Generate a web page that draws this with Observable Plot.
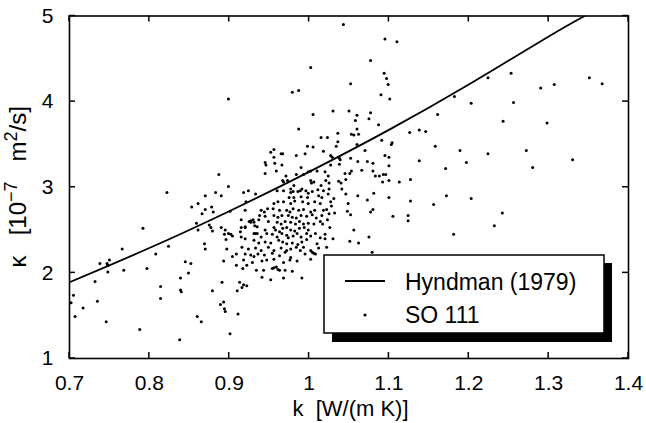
<!DOCTYPE html>
<html><head><meta charset="utf-8">
<script src="https://cdn.jsdelivr.net/npm/d3@7"></script>
<script src="https://cdn.jsdelivr.net/npm/@observablehq/plot@0.6"></script>
<style>
html,body{margin:0;padding:0;background:#fff;}
#chart{width:646px;height:423px;}
</style>
</head><body><div id="chart"></div>
<script>
// ---- data ----
const xTicks = [0.7, 0.8, 0.9, 1.0, 1.1, 1.2, 1.3, 1.4];
const yTicks = [1, 2, 3, 4, 5];
const hyndmanK     = [0.70, 0.80, 0.90, 1.00, 1.10, 1.20, 1.30, 1.345];
const hyndmanKappa = [1.89, 2.29, 2.72, 3.18, 3.67, 4.20, 4.76, 5.00];
const legendLabels = ["Hyndman (1979)", "SO 111"];
const xAxisLabel = "k  [W/(m K)]";

// SO 111 measurements [k, kappa]
const so111 = [
[0.899,4.03],[0.887,3.15],[0.899,3.01],[0.924,2.96],
[1.043,4.90],[1.095,4.73],[1.110,4.70],[1.077,4.48],[1.002,4.40],[1.094,4.33],[1.097,4.27],[1.099,4.20],[1.052,4.21],[0.979,4.11],[0.987,4.13],[1.090,4.08],[1.101,4.03],
[1.030,3.89],[1.050,3.89],[1.077,3.87],[1.005,3.85],[1.060,3.84],[1.075,3.80],[1.058,3.78],[1.087,3.73],[0.987,3.68],[1.060,3.68],[1.053,3.62],[1.056,3.61],[1.062,3.62],[1.015,3.58],[1.023,3.58],[1.036,3.63],[1.036,3.53],[1.034,3.48],[0.998,3.48],[1.005,3.47],[1.060,3.50],[1.091,3.55],[1.104,3.52],[1.103,3.50],[1.126,3.64],[1.138,3.67],[1.146,3.65],[1.161,3.85],[1.158,3.48],[1.138,3.31],[1.171,3.22],
[0.952,3.41],[0.956,3.44],[0.956,3.35],[0.965,3.39],[0.967,3.39],[0.945,3.29],[0.946,3.26],[0.957,3.28],[0.966,3.26],[0.945,3.16],[0.959,3.19],[0.984,3.37],[0.995,3.39],[1.018,3.42],[1.027,3.37],[1.029,3.35],[1.038,3.34],[1.052,3.34],[1.070,3.43],[1.095,3.37],[1.100,3.35],[1.061,3.30],[1.073,3.30],[1.080,3.28],[1.100,3.25],
[0.990,3.23],[1.002,3.19],[0.984,3.15],[0.993,3.15],[0.999,3.18],[1.010,3.19],[1.020,3.18],[1.027,3.26],[1.038,3.27],[1.039,3.32],[1.045,3.16],[1.051,3.16],[1.053,3.19],[1.066,3.20],[1.080,3.19],[1.083,3.13],[1.088,3.13],[1.093,3.15],[1.096,3.15],[1.100,3.08],[1.092,3.06],[1.113,3.06],[1.127,3.09],
[0.971,3.13],[0.967,3.08],[0.968,3.06],[0.973,3.08],[0.981,3.02],[1.002,3.08],[1.003,3.05],[1.006,3.06],[1.015,3.02],[1.021,3.08],[1.024,3.13],[1.025,3.05],[1.037,3.07],[1.040,3.05],[1.046,3.09],[1.025,2.98],[1.041,2.98],[0.977,2.98],[0.991,2.98],
[1.253,4.33],[1.224,4.28],[1.351,4.28],[1.367,4.21],[1.290,4.16],[1.307,4.20],[1.182,4.06],[1.203,3.98],[1.256,3.99],[1.243,3.77],[1.298,3.75],[1.189,3.43],[1.197,3.29],[1.224,3.39],[1.272,3.43],[1.280,3.23],[1.330,3.32],
[1.172,2.90],[1.203,2.87],[1.242,2.70],[1.232,2.55],[1.181,2.45],
[1.049,2.81],[1.073,2.85],[1.127,2.84],[1.156,2.80],[1.028,2.78],[1.022,2.74],[1.025,2.69],[1.032,2.70],[1.048,2.72],[1.052,2.68],[1.077,2.71],[1.080,2.74],[1.105,2.66],[1.124,2.67],[1.124,2.61],[1.026,2.53],[1.056,2.50],[1.020,2.45],[1.030,2.40],[1.075,2.42],[1.051,2.37],[1.062,2.35],[1.022,2.30],[1.079,2.24],
[1.061,2.90],[1.081,2.93],[1.100,2.88],[1.027,2.83],[1.031,2.87],[1.046,2.92],
[0.918,2.94],[0.933,2.92],[0.960,2.96],[0.968,2.96],[0.977,2.94],[0.980,2.95],[0.986,2.95],[0.989,2.96],[0.996,2.96],[0.999,2.93],[1.004,2.95],[1.011,2.97],[1.018,2.96],[0.975,2.88],[0.981,2.88],[0.990,2.89],[0.998,2.88],[1.012,2.90],[1.016,2.88],[1.024,2.92],
[0.921,2.83],[0.956,2.81],[0.961,2.83],[0.968,2.83],[0.977,2.81],[0.982,2.84],[0.992,2.83],[0.999,2.81],[1.007,2.83],[1.014,2.81],
[0.940,2.73],[0.944,2.71],[0.948,2.75],[0.955,2.75],[0.963,2.73],[0.972,2.73],[0.976,2.71],[0.980,2.75],[0.987,2.73],[0.993,2.74],[1.002,2.71],[1.007,2.73],[1.018,2.73],
[0.938,2.67],[0.945,2.66],[0.956,2.67],[0.961,2.65],[0.966,2.67],[0.974,2.67],[0.979,2.65],[0.984,2.64],[0.990,2.67],[0.997,2.66],[1.004,2.68],[1.009,2.64],[1.016,2.67],
[0.927,2.61],[0.931,2.59],[0.937,2.62],[0.949,2.60],[0.960,2.59],[0.965,2.57],[0.970,2.60],[0.977,2.59],[0.983,2.57],[0.988,2.60],[0.993,2.57],[0.999,2.58],[1.006,2.57],[1.014,2.60],[1.023,2.62],
[0.920,2.54],[0.932,2.55],[0.945,2.50],[0.956,2.53],[0.958,2.50],[0.963,2.48],[0.967,2.52],[0.972,2.53],[0.977,2.50],[0.982,2.49],[0.988,2.52],[0.994,2.53],[0.999,2.50],[1.017,2.57],
[0.914,2.48],[0.933,2.46],[0.940,2.42],[0.947,2.46],[0.954,2.45],[0.960,2.42],[0.966,2.46],[0.972,2.44],[0.974,2.41],[0.980,2.43],[0.985,2.46],[0.990,2.42],[0.997,2.46],[1.002,2.43],[1.008,2.46],[1.014,2.41],
[0.920,2.40],[0.931,2.38],[0.937,2.35],[0.945,2.36],[0.952,2.35],[0.962,2.38],[0.967,2.36],[0.972,2.34],[0.979,2.35],[0.986,2.33],[0.991,2.36],[0.997,2.39],[1.010,2.34],[1.020,2.40],
[0.916,2.30],[0.924,2.28],[0.933,2.29],[0.940,2.26],[0.949,2.30],[0.956,2.26],[0.965,2.29],[0.972,2.26],[0.977,2.28],[0.984,2.30],[0.993,2.30],[1.002,2.26],[1.006,2.23],[1.012,2.29],
[0.920,2.22],[0.931,2.19],[0.936,2.22],[0.944,2.21],[0.954,2.23],[0.963,2.20],[0.970,2.24],[0.977,2.18],[0.989,2.26],[0.995,2.22],[1.004,2.24],[1.008,2.22],
[0.918,2.15],[0.922,2.09],[0.929,2.12],[0.941,2.14],[0.947,2.15],[0.956,2.16],[0.968,2.12],[0.976,2.15],[0.985,2.14],[1.002,2.16],
[0.934,2.03],[0.943,2.03],[0.954,2.05],[0.956,2.06],[0.959,2.07],[0.961,2.04],[0.963,2.03],[0.970,2.03],[0.979,2.02],
[0.941,1.95],[0.952,1.92],[0.968,1.94],[0.991,1.94],
[0.918,1.86],[0.922,1.85],[0.916,1.83],[0.917,2.05],[0.927,2.21],
[0.822,2.94],[0.883,2.94],[0.890,2.90],[0.870,2.90],[0.861,2.81],[0.853,2.77],[0.870,2.74],[0.878,2.77],[0.880,2.71],[0.866,2.69],[0.901,2.72],[0.920,2.73],[0.859,2.58],[0.861,2.50],[0.875,2.56],[0.877,2.53],[0.879,2.49],[0.890,2.53],[0.895,2.50],[0.894,2.45],[0.896,2.39],[0.899,2.46],[0.902,2.45],[0.904,2.43],[0.915,2.62],[0.925,2.60],[0.930,2.62],[0.927,2.59],[0.915,2.53],[0.920,2.53],[0.935,2.54],[0.931,2.46],[0.935,2.46],[0.915,2.42],
[0.839,1.94],[0.845,2.13],[0.852,2.11],[0.849,2.00],[0.839,1.80],[0.840,1.78],[0.814,1.84],[0.814,1.70],[0.797,2.05],[0.808,2.22],[0.824,2.31],[0.792,2.52],[0.766,2.28],[0.768,2.03],[0.750,2.15],[0.748,2.09],[0.747,2.11],[0.748,2.01],[0.738,2.11],[0.732,1.90],[0.735,1.67],[0.746,1.43],[0.717,1.59],[0.705,1.74],[0.702,1.65],[0.707,1.49],[0.788,1.34],[0.838,1.22],[0.860,1.49],
[0.869,2.34],[0.870,2.28],[0.897,2.28],[0.893,2.14],[0.904,2.19],[0.909,2.22],[0.909,2.09],[0.891,1.89],[0.879,1.79],[0.910,1.79],[0.913,1.89],[0.889,1.63],[0.893,1.66],[0.894,1.58],[0.895,1.55],[0.911,1.52],[0.901,1.29],[0.865,1.43]
];

// ---- layout ----
const W = 646, H = 423, mL = 69, mR = 18, mT = 15.5, mB = 65;
const fw = W - mL - mR, fh = H - mT - mB;
const FONT = "'Liberation Sans', Arial, Helvetica, sans-serif";
const TICK = 6;

const curveData = hyndmanK.map((k, i) => ({k, kappa: hyndmanKappa[i]}));
const pts = so111.map(([k, kappa]) => ({k, kappa}));

const plot = Plot.plot({
  width: W, height: H,
  marginLeft: mL, marginRight: mR, marginTop: mT, marginBottom: mB,
  style: {fontFamily: FONT, fontSize: "21px", color: "#000", background: "#fff"},
  x: {domain: [0.7, 1.4], label: null},
  y: {domain: [1, 5], label: null},
  marks: [
    Plot.dot(pts, {x: "k", y: "kappa", r: 1.5, fill: "#000", stroke: null}),
    Plot.line(curveData, {x: "k", y: "kappa", curve: "natural", stroke: "#000", strokeWidth: 1.8, clip: true}),
    Plot.axisX(xTicks, {anchor: "bottom", tickSize: 0, tickPadding: 17, fontSize: 21, tickFormat: d => String(d), label: null}),
    Plot.axisY(yTicks, {anchor: "left", tickSize: 0, tickPadding: 16, fontSize: 21, tickFormat: d => String(d), label: null}),
    Plot.frame({stroke: "#000", strokeWidth: 1.6})
  ]
});
document.getElementById("chart").appendChild(plot);

const svg = d3.select(plot);
const sx = plot.scale("x"), sy = plot.scale("y");
const fTop = mT, fBottom = H - mB, fLeft = mL, fRight = W - mR;

// inward ticks on all four sides, positioned by Plot's scales
const tk = svg.append("g").attr("stroke", "#000").attr("stroke-width", 1.5);
for (const v of xTicks) {
  const px = sx.apply(v);
  tk.append("line").attr("x1", px).attr("x2", px).attr("y1", fBottom).attr("y2", fBottom - TICK);
  tk.append("line").attr("x1", px).attr("x2", px).attr("y1", fTop).attr("y2", fTop + TICK);
}
for (const v of yTicks) {
  const py = sy.apply(v);
  tk.append("line").attr("x1", fLeft).attr("x2", fLeft + TICK).attr("y1", py).attr("y2", py);
  tk.append("line").attr("x1", fRight).attr("x2", fRight - TICK).attr("y1", py).attr("y2", py);
}

// x axis label
svg.append("text")
  .attr("x", mL + fw / 2 + 2).attr("y", 416)
  .attr("text-anchor", "middle")
  .attr("font-family", FONT).attr("font-size", 22).attr("fill", "#000")
  .style("white-space", "pre")
  .text(xAxisLabel);

// y axis label with superscripts
const yl = svg.append("text")
  .attr("transform", `translate(26,${mT + fh / 2}) rotate(-90)`)
  .attr("text-anchor", "middle")
  .attr("font-family", FONT).attr("font-size", 24).attr("fill", "#000")
  .style("white-space", "pre");
yl.append("tspan").text("κ   [10");
yl.append("tspan").attr("dy", -9).attr("font-size", 18).text("−7");
yl.append("tspan").attr("dy", 9).text("   m");
yl.append("tspan").attr("dy", -9).attr("font-size", 18).text("2");
yl.append("tspan").attr("dy", 9).text("/s]");

// legend
const lg = svg.append("g").attr("text-anchor", "start");
lg.append("rect").attr("x", 332).attr("y", 263).attr("width", 280).attr("height", 79).attr("fill", "#000");
lg.append("rect").attr("x", 324).attr("y", 255).attr("width", 280).attr("height", 78)
  .attr("fill", "#fff").attr("stroke", "#000").attr("stroke-width", 1.5);
lg.append("line").attr("x1", 345).attr("x2", 385).attr("y1", 281).attr("y2", 281)
  .attr("stroke", "#000").attr("stroke-width", 1.8);
lg.append("circle").attr("cx", 365).attr("cy", 315).attr("r", 1.6).attr("fill", "#000");
lg.append("text").attr("x", 405).attr("y", 290).attr("text-anchor", "start").attr("font-family", FONT).attr("font-size", 23).attr("fill", "#000").text(legendLabels[0]);
lg.append("text").attr("x", 405).attr("y", 323).attr("text-anchor", "start").attr("font-family", FONT).attr("font-size", 23).attr("fill", "#000").text(legendLabels[1]);
</script>
</body></html>
